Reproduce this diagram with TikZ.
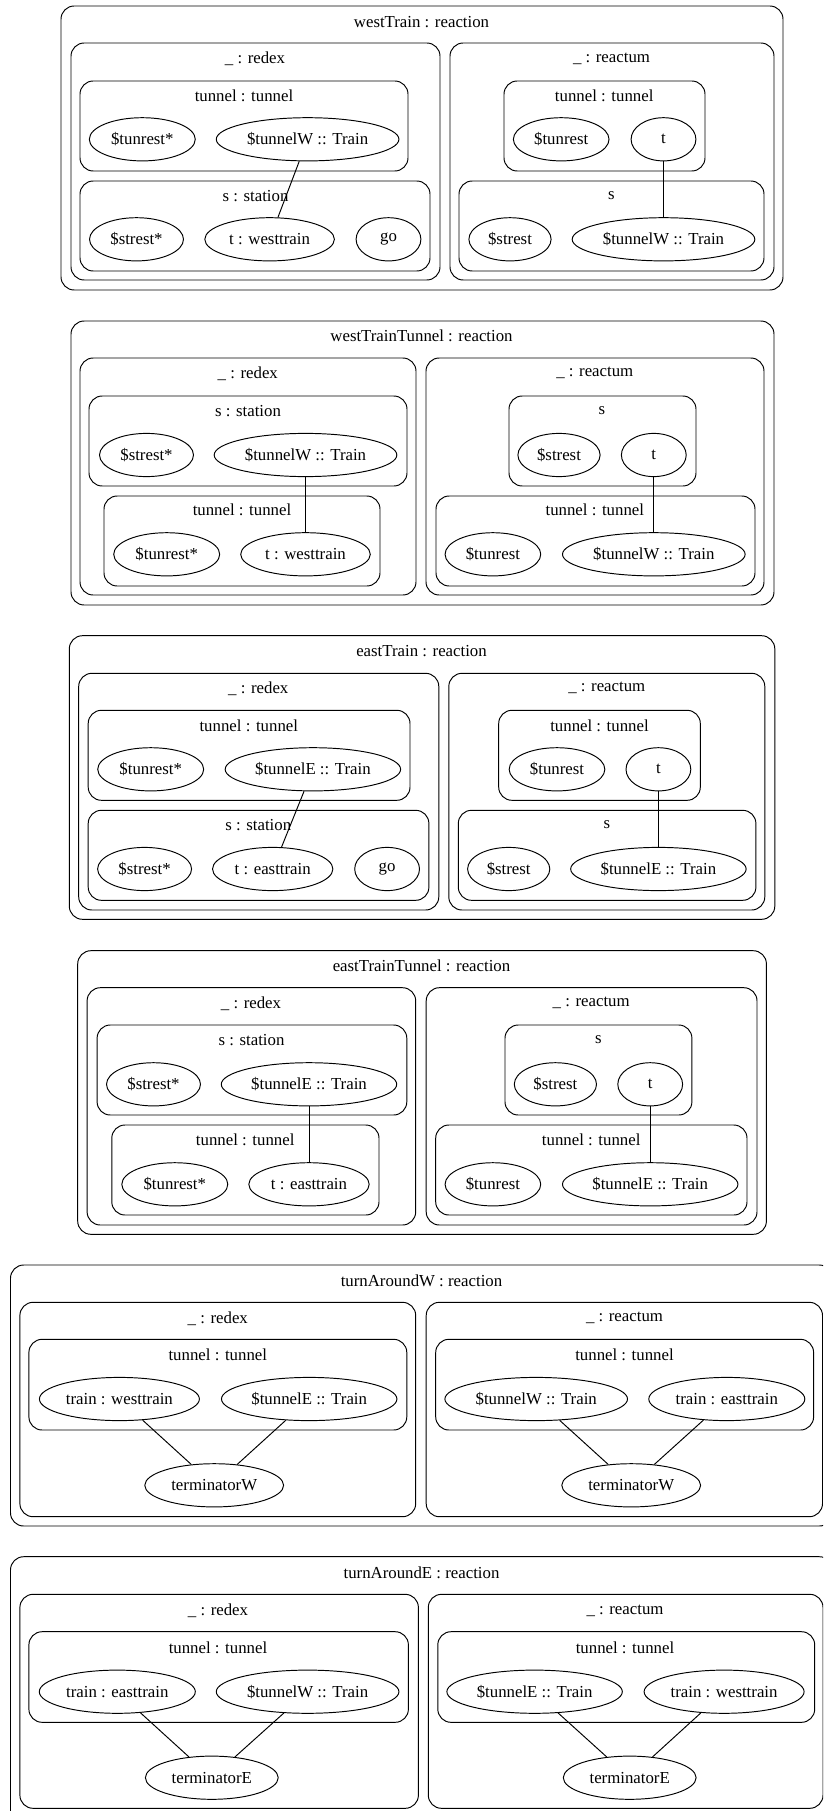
\documentclass[tikz,border=0pt]{standalone}
\usepackage{fontspec}
\setmainfont{Liberation Serif}
\usetikzlibrary{shapes.geometric}
\tikzset{
  cl/.style={draw=black, line width=0.8pt, rounded corners=11pt},
  ttl/.style={inner sep=0pt, font=\fontsize{14}{16}\selectfont},
  el/.style={ellipse, draw=black, line width=0.8pt, inner sep=0pt, minimum height=36pt, minimum width=#1, font=\fontsize{14}{16}\selectfont},
  el/.default=54pt,
  ln/.style={draw=black, line width=0.8pt}
}
\begin{document}
\begin{tikzpicture}[x=0.8333pt, y=-0.8333pt]
\clip (0,0) rectangle (823,1811);
\fill[white] (0,0) rectangle (823,1811);

% ===== Panel 1: westTrain =====
\draw[cl] (61,6) rectangle (783,290);
\node[ttl] (t1) at (421.5,22) {westTrain : reaction};
\draw[cl] (71,43) rectangle (440,280);
\node[ttl] (t1r) at (255,59) {\_ : redex};
\draw[cl] (80,81) rectangle (408,171);
\node[ttl] (t1rt) at (244,96) {tunnel : tunnel};
\node[el=88.3pt] (n1a) at (142.3,139.3) {\$tunrest*};
\node[el=152.2pt] (n1b) at (307.6,139.3) {\$tunnelW :: Train};
\draw[cl] (80,181) rectangle (430,271);
\node[ttl] (t1rs) at (255.5,196) {s : station};
\node[el=78.3pt] (n1c) at (136.5,239.3) {\$strest*};
\node[el=108pt] (n1d) at (269.6,239.3) {t : westtrain};
\node[el] (n1e) at (388.5,239.3) {go};
\draw[ln] (n1b) -- (n1d);
\draw[cl] (450,43) rectangle (774,280);
\node[ttl] (t1x) at (611.5,59) {\_ : reactum};
\draw[cl] (504,81) rectangle (705,171);
\node[ttl] (t1xt) at (604.2,96) {tunnel : tunnel};
\node[el=79.7pt] (n1f) at (561.2,139.3) {\$tunrest};
\node[el] (n1g) at (663.5,139.3) {t};
\draw[cl] (459,181) rectangle (764,271);
\node[ttl] (t1xs) at (611.5,196) {s};
\node[el=68.5pt] (n1h) at (510,239.3) {\$strest};
\node[el=152.2pt] (n1i) at (663.5,239.3) {\$tunnelW :: Train};
\draw[ln] (n1g) -- (n1i);

% ===== Panel 2: westTrainTunnel =====
\draw[cl] (71,321) rectangle (774,605);
\node[ttl] (t2) at (421.5,336) {westTrainTunnel : reaction};
\draw[cl] (80,358) rectangle (416,595);
\node[ttl] (t2r) at (247.8,373.3) {\_ : redex};
\draw[cl] (89,396) rectangle (407,486);
\node[ttl] (t2rs) at (248,411) {s : station};
\node[el=78.3pt] (n2a) at (146.5,455) {\$strest*};
\node[el=152.2pt] (n2b) at (305.5,455) {\$tunnelW :: Train};
\draw[cl] (104,496) rectangle (380,586);
\node[ttl] (t2rt) at (242,510) {tunnel : tunnel};
\node[el=88.3pt] (n2c) at (166.7,554.3) {\$tunrest*};
\node[el=108pt] (n2d) at (305.5,554.3) {t : westtrain};
\draw[ln] (n2b) -- (n2d);
\draw[cl] (426,358) rectangle (764,595);
\node[ttl] (t2x) at (594.8,373.3) {\_ : reactum};
\draw[cl] (509,396) rectangle (696,486);
\node[ttl] (t2xs) at (602,411) {s};
\node[el=68.5pt] (n2e) at (559,455) {\$strest};
\node[el] (n2f) at (653.8,455) {t};
\draw[cl] (436,496) rectangle (755,586);
\node[ttl] (t2xt) at (594.8,510) {tunnel : tunnel};
\node[el=79.7pt] (n2g) at (492.9,554.3) {\$tunrest};
\node[el=152.2pt] (n2h) at (653.8,554.3) {\$tunnelW :: Train};
\draw[ln] (n2f) -- (n2h);

% ===== Panel 3: eastTrain =====
\draw[cl] (69.3,635.7) rectangle (774.8,919.3);
\node[ttl] (t3) at (421.5,651) {eastTrain : reaction};
\draw[cl] (78.7,673.3) rectangle (438.8,910);
\node[ttl] (t3r) at (258.3,688.3) {\_ : redex};
\draw[cl] (88.2,710.3) rectangle (410,800.3);
\node[ttl] (t3rt) at (248.8,726) {tunnel : tunnel};
\node[el=88.3pt] (n3a) at (150.7,769.3) {\$tunrest*};
\node[el=146.2pt] (n3b) at (312.9,769.3) {\$tunnelE :: Train};
\draw[cl] (88.2,810.3) rectangle (428.9,900.3);
\node[ttl] (t3rs) at (258.3,825) {s : station};
\node[el=78.3pt] (n3c) at (144.6,869) {\$strest*};
\node[el=100.3pt] (n3d) at (272.7,869) {t : easttrain};
\node[el] (n3e) at (387.1,869) {go};
\draw[ln] (n3b) -- (n3d);
\draw[cl] (448.8,673.3) rectangle (764.8,910);
\node[ttl] (t3x) at (606.8,688.3) {\_ : reactum};
\draw[cl] (498.7,710.3) rectangle (700.3,800.3);
\node[ttl] (t3xt) at (599.5,726) {tunnel : tunnel};
\node[el=79.7pt] (n3f) at (557,769.3) {\$tunrest};
\node[el] (n3g) at (658.4,769.3) {t};
\draw[cl] (458.3,810.3) rectangle (755.9,900.3);
\node[ttl] (t3xs) at (606.8,825) {s};
\node[el=68.5pt] (n3h) at (508.7,869) {\$strest};
\node[el=146.2pt] (n3i) at (658.4,869) {\$tunnelE :: Train};
\draw[ln] (n3g) -- (n3i);

% ===== Panel 4: eastTrainTunnel =====
\draw[cl] (77.7,950.7) rectangle (766.4,1234.3);
\node[ttl] (t4) at (421.5,966) {eastTrainTunnel : reaction};
\draw[cl] (87.1,987.7) rectangle (415.7,1225);
\node[ttl] (t4r) at (251,1003.3) {\_ : redex};
\draw[cl] (97.1,1025) rectangle (406.8,1115);
\node[ttl] (t4rs) at (251.5,1040) {s : station};
\node[el=78.3pt] (n4a) at (153.5,1084.3) {\$strest*};
\node[el=146.2pt] (n4b) at (309,1084.3) {\$tunnelE :: Train};
\draw[cl] (111.8,1125) rectangle (379,1215);
\node[ttl] (t4rt) at (245.2,1140) {tunnel : tunnel};
\node[el=88.3pt] (n4c) at (174.8,1184.3) {\$tunrest*};
\node[el=100.3pt] (n4d) at (309,1184.3) {t : easttrain};
\draw[ln] (n4b) -- (n4d);
\draw[cl] (426.2,987.7) rectangle (757,1225);
\node[ttl] (t4x) at (591.2,1003.3) {\_ : reactum};
\draw[cl] (505,1025) rectangle (691.9,1115);
\node[ttl] (t4xs) at (598.4,1040) {s};
\node[el=68.5pt] (n4e) at (555.4,1084.3) {\$strest};
\node[el] (n4f) at (650.2,1084.3) {t};
\draw[cl] (435.7,1125) rectangle (747,1215);
\node[ttl] (t4xt) at (591.2,1140) {tunnel : tunnel};
\node[el=79.7pt] (n4g) at (492.9,1184.3) {\$tunrest};
\node[el=146.2pt] (n4h) at (650.2,1184.3) {\$tunnelE :: Train};
\draw[ln] (n4f) -- (n4h);

% ===== Panel 5: turnAroundW =====
\draw[cl] (10.5,1265) rectangle (832.5,1526);
\node[ttl] (t5) at (421.5,1281) {turnAroundW : reaction};
\draw[cl] (19.9,1302.3) rectangle (415.7,1516.7);
\node[ttl] (t5r) at (217.8,1318.3) {\_ : redex};
\draw[cl] (28.9,1339.3) rectangle (406.8,1430);
\node[ttl] (t5rt) at (217.8,1355) {tunnel : tunnel};
\node[el=133.3pt] (n5a) at (119.4,1399) {train : westtrain};
\node[el=146.2pt] (n5b) at (309.2,1399) {\$tunnelE :: Train};
\node[el=115.7pt] (n5c) at (214.2,1485.3) {terminatorW};
\draw[ln] (n5a) -- (n5c);
\draw[ln] (n5b) -- (n5c);
\draw[cl] (426.2,1302.3) rectangle (822.5,1516.7);
\node[ttl] (t5x) at (624.5,1318.3) {\_ : reactum};
\draw[cl] (435.7,1339.3) rectangle (813.6,1430);
\node[ttl] (t5xt) at (624.5,1355) {tunnel : tunnel};
\node[el=152.2pt] (n5d) at (536.2,1399) {\$tunnelW :: Train};
\node[el=130pt] (n5e) at (726.8,1399) {train : easttrain};
\node[el=115.7pt] (n5f) at (631.2,1485.3) {terminatorW};
\draw[ln] (n5d) -- (n5f);
\draw[ln] (n5e) -- (n5f);

% ===== Panel 6: turnAroundE =====
\draw[cl] (10.5,1556.7) rectangle (832.5,1830);
\node[ttl] (t6) at (421.5,1572.3) {turnAroundE : reaction};
\draw[cl] (19.9,1594.3) rectangle (418.4,1808.3);
\node[ttl] (t6r) at (218,1610.7) {\_ : redex};
\draw[cl] (28.9,1631.7) rectangle (408.4,1722.3);
\node[ttl] (t6rt) at (218,1647.3) {tunnel : tunnel};
\node[el=130pt] (n6a) at (117.3,1691.7) {train : easttrain};
\node[el=152.2pt] (n6b) at (307.6,1691.7) {\$tunnelW :: Train};
\node[el=110.7pt] (n6c) at (211.8,1777.7) {terminatorE};
\draw[ln] (n6a) -- (n6c);
\draw[ln] (n6b) -- (n6c);
\draw[cl] (428.3,1594.3) rectangle (823,1808.3);
\node[ttl] (t6x) at (625,1610.7) {\_ : reactum};
\draw[cl] (437.8,1631.7) rectangle (814.7,1722.3);
\node[ttl] (t6xt) at (625,1647.3) {tunnel : tunnel};
\node[el=146.2pt] (n6d) at (534.6,1691.7) {\$tunnelE :: Train};
\node[el=133.3pt] (n6e) at (724.1,1691.7) {train : westtrain};
\node[el=110.7pt] (n6f) at (629.7,1777.7) {terminatorE};
\draw[ln] (n6d) -- (n6f);
\draw[ln] (n6e) -- (n6f);
\end{tikzpicture}
\end{document}
